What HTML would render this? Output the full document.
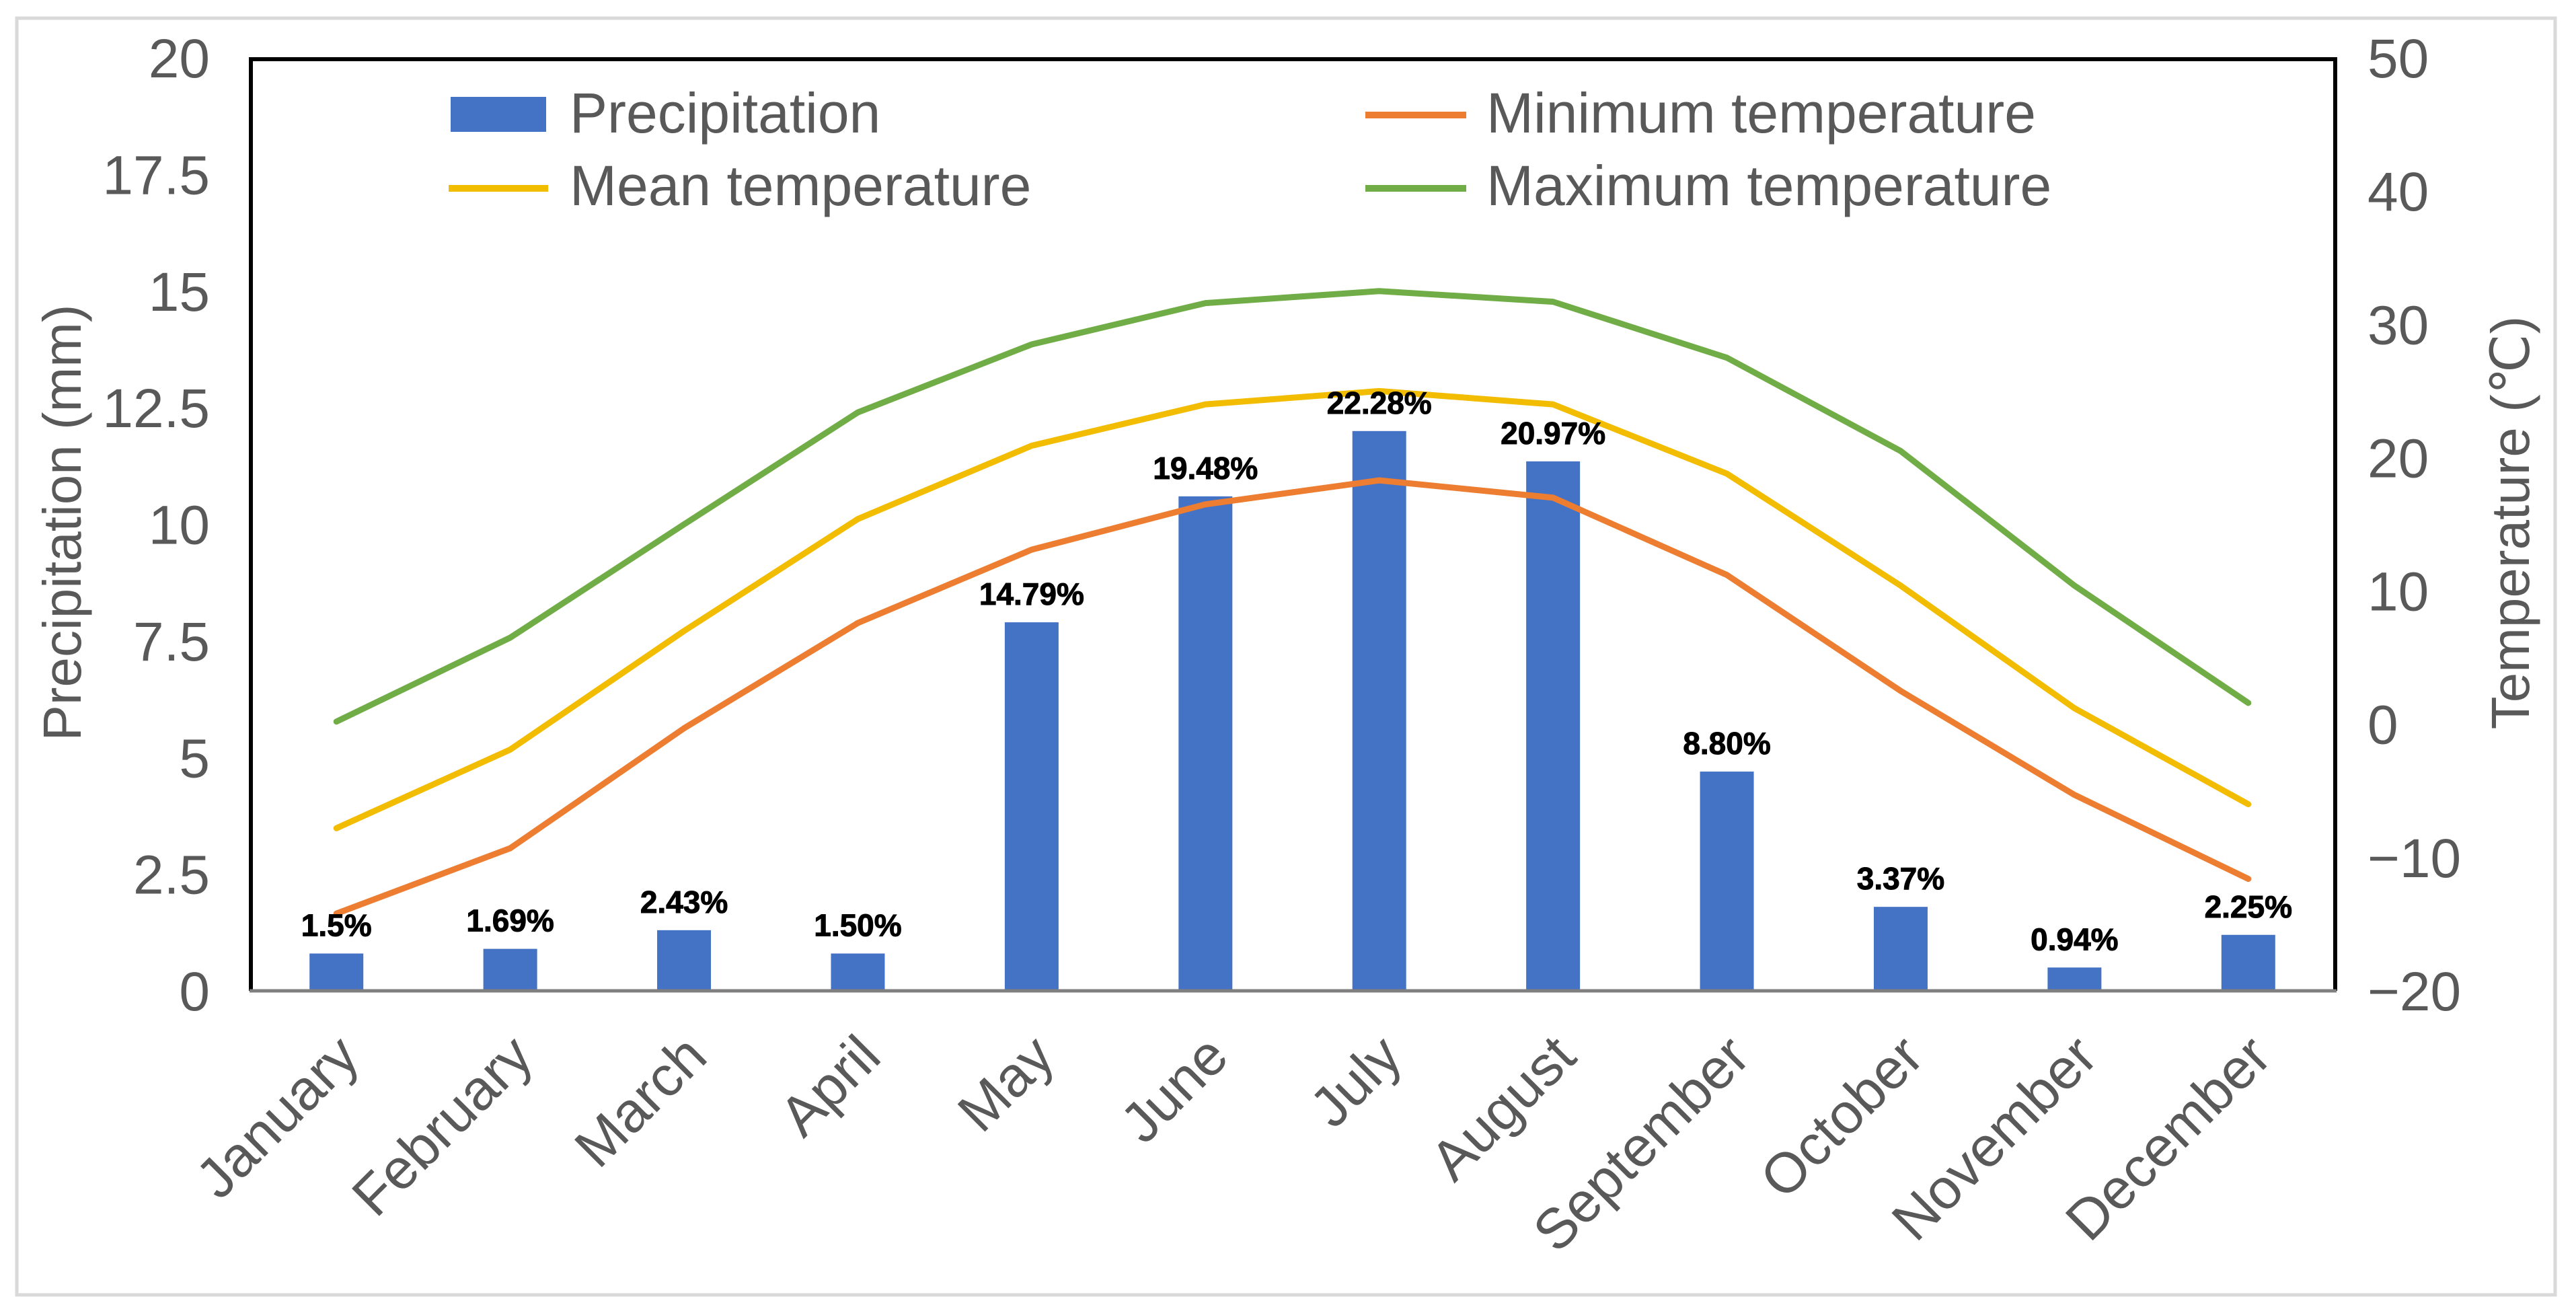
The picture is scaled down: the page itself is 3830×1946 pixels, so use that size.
<!DOCTYPE html>
<html><head><meta charset="utf-8"><style>
html,body{margin:0;padding:0;background:#fff;}
svg{display:block;font-family:"Liberation Sans",Arial,sans-serif;}
</style></head><body>
<svg id="chart" width="3830" height="1946" viewBox="0 0 3830 1946" xmlns="http://www.w3.org/2000/svg">
<rect x="25" y="27" width="3774" height="1898" fill="#fff" stroke="#d9d9d9" stroke-width="5"/>
<g id="bars"></g>
<g id="lines"></g>
<g id="labels"></g>
<g id="axes"></g>
<path d="M373,1473 L373,88 L3472,88 L3472,1473" fill="none" stroke="#000" stroke-width="6"/>
<line x1="371" y1="1473" x2="3474" y2="1473" stroke="#7f7f7f" stroke-width="5"/>
<text transform="translate(120,777) rotate(-90)" text-anchor="middle" font-size="80" fill="#595959">Precipitation (mm)</text>
<text transform="translate(3760,777) rotate(-90)" text-anchor="middle" font-size="80" fill="#595959">Temperature (℃)</text>
<g font-size="84" fill="#595959">
<rect x="670" y="144" width="142" height="52" fill="#4472c4"/>
<text x="847" y="197">Precipitation</text>
<line x1="667" y1="280" x2="815" y2="280" stroke="#f2bc00" stroke-width="10"/>
<text x="847" y="305">Mean temperature</text>
<line x1="2030" y1="171" x2="2180" y2="171" stroke="#ed7d31" stroke-width="10"/>
<text x="2210" y="197">Minimum temperature</text>
<line x1="2030" y1="280" x2="2180" y2="280" stroke="#70ad47" stroke-width="10"/>
<text x="2210" y="305">Maximum temperature</text>
</g>
</svg>
<script>
const months = ["January","February","March","April","May","June","July","August","September","October","November","December"];
const precip = [0.8,0.9,1.3,0.8,7.9,10.6,12.0,11.35,4.7,1.8,0.5,1.2];
const precipLabels = ["1.5%","1.69%","2.43%","1.50%","14.79%","19.48%","22.28%","20.97%","8.80%","3.37%","0.94%","2.25%"];
const minTemp = [-14.2,-9.3,-0.3,7.6,13.1,16.5,18.3,17.0,11.2,2.5,-5.3,-11.6];
const meanTemp = [-7.8,-1.9,7.0,15.4,20.9,24.0,25.0,24.0,18.8,10.4,1.2,-6.0];
const maxTemp = [0.2,6.5,15.0,23.4,28.5,31.6,32.5,31.7,27.5,20.5,10.4,1.6];
const leftTicks = ["0","2.5","5","7.5","10","12.5","15","17.5","20"];
const rightTicks = ["-20","-10","0","10","20","30","40","50"];

const NS="http://www.w3.org/2000/svg";
const X0=371,X1=3472,Y0=1473,Y1=86;
const band=(X1-X0)/months.length;
function xC(i){return X0+band*(i+0.5);}
function yL(v){return Y0-(v/20)*(Y0-Y1);}
function yR(v){return Y0-((v+20)/70)*(Y0-Y1);}
function mk(tag,attrs,parent){const e=document.createElementNS(NS,tag);for(const k in attrs)e.setAttribute(k,attrs[k]);parent.appendChild(e);return e;}
const gB=document.getElementById('bars'),gL=document.getElementById('lines'),gT=document.getElementById('labels'),gA=document.getElementById('axes');
const bw=80;
precip.forEach((v,i)=>{
  const r=mk('rect',{x:xC(i)-bw/2,y:yL(v),width:bw,height:Y0-yL(v),fill:'#4472c4'},gB);
  
  
  const t=mk('text',{x:xC(i),y:yL(v)-26,'text-anchor':'middle','font-size':'46','font-weight':'bold',fill:'#000',stroke:'#000','stroke-width':'1'},gT);
  t.textContent=precipLabels[i];
  
  
});
[[minTemp,'#ed7d31','min-temp-line'],[meanTemp,'#f2bc00','mean-temp-line'],[maxTemp,'#70ad47','max-temp-line']].forEach(([arr,c,n])=>{
  const p=mk('polyline',{points:arr.map((v,i)=>xC(i)+','+yR(v)).join(' '),fill:'none',stroke:c,'stroke-width':'9','stroke-linejoin':'round','stroke-linecap':'round'},gL);
  
  
});
leftTicks.forEach(s=>{
  const t=mk('text',{x:312,y:yL(parseFloat(s))+29,'text-anchor':'end','font-size':'82',fill:'#595959'},gA);
  t.textContent=s;
  
  
});
rightTicks.forEach(s=>{
  const t=mk('text',{x:3520,y:yR(parseFloat(s))+29,'font-size':'82',fill:'#595959'},gA);
  t.textContent=s.replace('-','−');
  
  
});
months.forEach((m,i)=>{
  const x=xC(i)+38,y=1575;
  const t=mk('text',{x:x,y:y,'text-anchor':'end','font-size':'84',fill:'#595959',transform:'rotate(-45 '+x+' '+y+')'},gA);
  t.textContent=m;
  
  
});
</script>
</body></html>
